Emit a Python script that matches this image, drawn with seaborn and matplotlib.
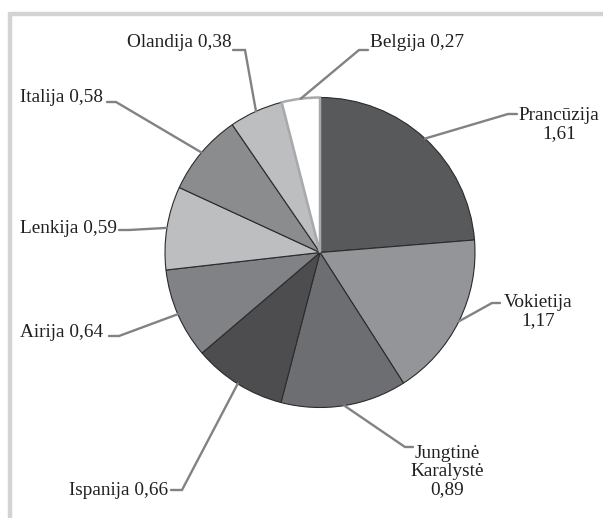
import numpy as np
import matplotlib
matplotlib.use("Agg")
import matplotlib.pyplot as plt
import seaborn as sns

# ---- data ----
countries = ["Prancūzija", "Vokietija", "Jungtinė\nKaralystė", "Ispanija", "Airija",
             "Lenkija", "Italija", "Olandija", "Belgija"]
values = [1.61, 1.17, 0.89, 0.66, 0.64, 0.59, 0.58, 0.38, 0.27]
value_labels = ["1,61", "1,17", "0,89", "0,66", "0,64", "0,59", "0,58", "0,38", "0,27"]
colors = ["#58595b", "#939598", "#6d6e71", "#4d4d4f", "#808285",
          "#bcbec0", "#8a8c8e", "#bcbec0", "#ffffff"]

# ---- layout (pixel coords, y down) ----
W, H = 603, 518
CX, CY, R = 320, 252.5, 155
# per label: elbow point, end of horizontal tick, text anchor (baseline of last line), ha, separator
layout = [
    ((508, 114), (517, 114), (559, 138), "center", "\n"),
    ((492, 303), (500, 303), (538, 325), "center", "\n"),
    ((405, 447), (413, 447), (447, 494), "center", "\n"),
    ((182, 490), (171, 490), (168, 495), "right", " "),
    ((119, 336), (109, 336), (20, 337), "left", " "),
    ((129, 230), (119, 230), (20, 233), "left", " "),
    ((116, 102), (107, 102), (20, 102), "left", " "),
    ((245, 50), (233, 50), (127, 47), "left", " "),
    ((359, 50), (368, 50), (370, 47), "left", " "),
]

sns.set_theme(style="white")
plt.rcParams["font.family"] = ["Liberation Serif", "DejaVu Serif"]

fig = plt.figure(figsize=(W / 100, H / 100), dpi=100)
ax = fig.add_axes([0, 0, 1, 1])

def Y(y):
    return H - y

wedges, _ = ax.pie(values, colors=colors, startangle=90, counterclock=False,
                   center=(CX, Y(CY)), radius=R,
                   wedgeprops=dict(edgecolor="#2b2b2d", linewidth=0.8))
wedges[-1].set_edgecolor("#a7a9ac")
wedges[-1].set_linewidth(1.8)

ax.set_xlim(0, W)
ax.set_ylim(0, H)
ax.set_aspect("equal")
ax.axis("off")

# frame (light grey, top and left)
ax.plot([10, W + 5], [Y(14), Y(14)], color="#d1d3d4", lw=3.2, solid_capstyle="butt")
ax.plot([10, 10], [Y(12), -5], color="#d1d3d4", lw=3.2, solid_capstyle="butt")

for w, name, vl, (elbow, end, tpos, ha, sep) in zip(wedges, countries, value_labels, layout):
    ang = np.deg2rad((w.theta1 + w.theta2) / 2)
    px = CX + R * np.cos(ang)
    py = Y(CY) + R * np.sin(ang)
    ax.plot([px, elbow[0], end[0]], [py, Y(elbow[1]), Y(end[1])],
            color="#808285", lw=1.7, solid_joinstyle="miter", zorder=3)
    ax.text(tpos[0], Y(tpos[1]), name + sep + vl, ha=ha, va="baseline",
            fontsize=13.9, color="#231f20", multialignment="center",
            linespacing=1.08)

ax.set_xlim(0, W)
ax.set_ylim(0, H)
fig.savefig("out.png", dpi=100)
